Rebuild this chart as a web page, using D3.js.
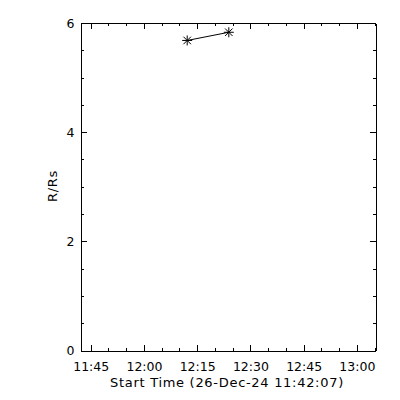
<!DOCTYPE html>
<html>
<head>
<meta charset="utf-8">
<script src="https://cdn.jsdelivr.net/npm/d3@7"></script>
<style>
  body { margin: 0; background: #fff; }
  text { font-family: "DejaVu Sans", sans-serif; font-size: 12.5px; fill: #000; }
  .titre { font-size: 13px; letter-spacing: 0.7px; }
  .axis path, .axis line { stroke: #000; stroke-width: 1; shape-rendering: crispEdges; }
</style>
</head>
<body>
<div id="chart"></div>
<script>
// donnees
const startTime = "2024-12-26T11:42:07Z";
const endTime = "2024-12-26T13:05:15Z";
const times = ["2024-12-26T12:12:11Z", "2024-12-26T12:23:55Z"];
const heights = [5.68, 5.83];
const xTickLabels = ["11:45", "12:00", "12:15", "12:30", "12:45", "13:00"];
const yTicks = [0, 2, 4, 6];

const largeur = 400, hauteur = 400;
const gauche = 80.5, droite = 375.5, haut = 23, bas = 350.5;

const svg = d3.select("#chart").append("svg")
    .attr("width", largeur).attr("height", hauteur);

const x = d3.scaleUtc()
    .domain([new Date(startTime), new Date(endTime)])
    .range([gauche, droite]);
const y = d3.scaleLinear().domain([0, 6]).range([bas, haut]);

const fmt = d3.utcFormat("%H:%M");
const majeursX = xTickLabels.map(s => new Date("2024-12-26T" + s + ":00Z"));
const mineursX = d3.utcMinute.every(5).range(x.domain()[0], x.domain()[1]);
const mineursY = d3.range(0, 6.01, 0.5);

// axe du bas
svg.append("g").attr("class", "axis")
    .attr("transform", "translate(0," + bas + ")")
    .call(d3.axisBottom(x).tickValues(mineursX).tickSize(-3).tickSizeOuter(0).tickFormat(""));
svg.append("g").attr("class", "axis")
    .attr("transform", "translate(0," + bas + ")")
    .call(d3.axisBottom(x).tickValues(majeursX).tickSize(-6).tickSizeOuter(0).tickPadding(12).tickFormat(fmt));
// axe du haut
svg.append("g").attr("class", "axis")
    .attr("transform", "translate(0," + haut + ")")
    .call(d3.axisTop(x).tickValues(mineursX).tickSize(-3).tickSizeOuter(0).tickFormat(""));
svg.append("g").attr("class", "axis")
    .attr("transform", "translate(0," + haut + ")")
    .call(d3.axisTop(x).tickValues(majeursX).tickSize(-6).tickSizeOuter(0).tickFormat(""));
// axe gauche
svg.append("g").attr("class", "axis")
    .attr("transform", "translate(" + gauche + ",0)")
    .call(d3.axisLeft(y).tickValues(mineursY).tickSize(-3).tickSizeOuter(0).tickFormat(""));
svg.append("g").attr("class", "axis")
    .attr("transform", "translate(" + gauche + ",0)")
    .call(d3.axisLeft(y).tickValues(yTicks).tickSize(-6).tickSizeOuter(0).tickPadding(6).tickFormat(d3.format("d")));
// axe droit
svg.append("g").attr("class", "axis")
    .attr("transform", "translate(" + droite + ",0)")
    .call(d3.axisRight(y).tickValues(mineursY).tickSize(-3).tickSizeOuter(0).tickFormat(""));
svg.append("g").attr("class", "axis")
    .attr("transform", "translate(" + droite + ",0)")
    .call(d3.axisRight(y).tickValues(yTicks).tickSize(-6).tickSizeOuter(0).tickFormat(""));

svg.selectAll(".axis text").attr("font-size", null).attr("font-family", null);

// titres des axes
svg.append("text").attr("class", "titre")
    .attr("x", 227).attr("y", 387)
    .attr("text-anchor", "middle")
    .text("Start Time (26-Dec-24 11:42:07)");
svg.append("text").attr("class", "titre")
    .attr("transform", "translate(57," + 186 + ") rotate(-90)")
    .attr("text-anchor", "middle")
    .text("R/Rs");

// donnees
const points = times.map((t, i) => [x(new Date(t)), y(heights[i])]);
svg.append("path")
    .attr("d", d3.line()(points))
    .attr("fill", "none").attr("stroke", "#000").attr("stroke-width", 1);

// asterisques
const r = 5;
const etoile = "M" + (-r) + ",0L" + r + ",0M0," + (-r) + "L0," + r +
    "M" + (-r * 0.75) + "," + (-r * 0.75) + "L" + (r * 0.75) + "," + (r * 0.75) +
    "M" + (-r * 0.75) + "," + (r * 0.75) + "L" + (r * 0.75) + "," + (-r * 0.75);
svg.selectAll(".etoile").data(points).enter().append("path")
    .attr("class", "etoile")
    .attr("transform", d => "translate(" + d[0] + "," + d[1] + ")")
    .attr("d", etoile)
    .attr("fill", "none").attr("stroke", "#000").attr("stroke-width", 1);
</script>
</body>
</html>
